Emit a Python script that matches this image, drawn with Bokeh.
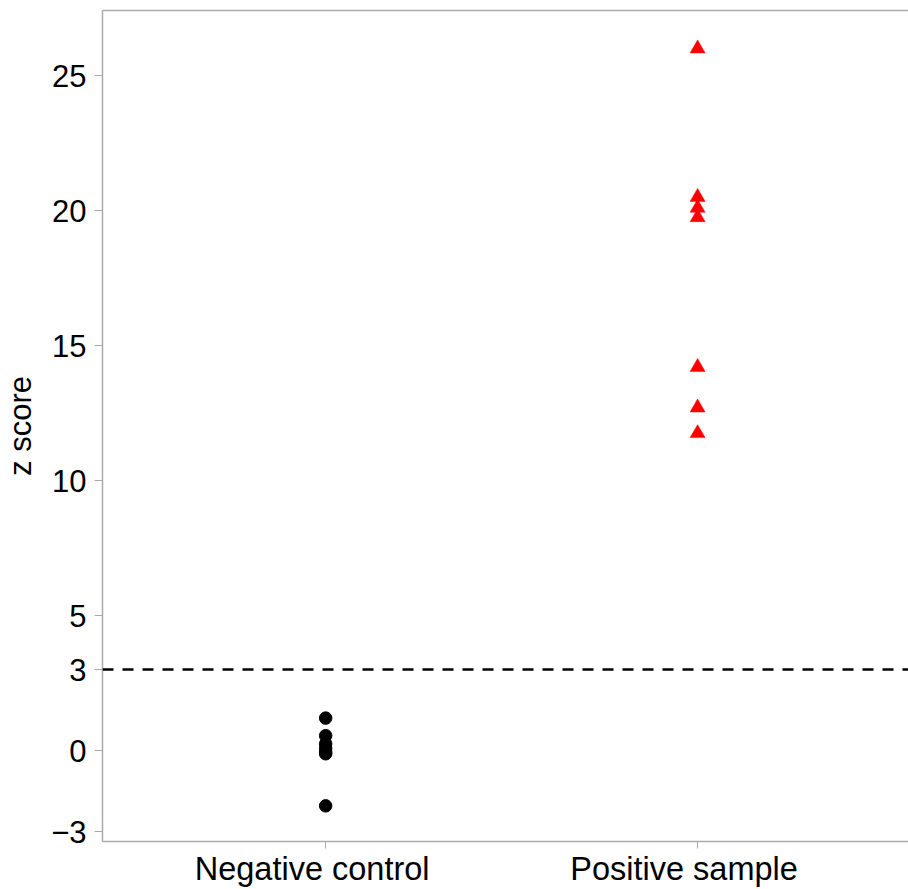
from bokeh.plotting import figure
from bokeh.models import FixedTicker, LinearAxis, Span, Range1d, ColumnDataSource
from bokeh.embed import file_html
from bokeh.resources import INLINE

# ---- data ----
categories = ["Negative control", "Positive sample"]
negative_z = [1.2, 0.55, 0.25, 0.08, -0.05, -0.12, -2.05]
positive_z = [26.0, 20.5, 20.1, 19.75, 14.2, 12.7, 11.75]
y_ticks = [-3, 0, 3, 5, 10, 15, 20, 25]
threshold = 3

FONT = "Liberation Sans"
GREY = "#ababab"
PAD = "\u00a0" * 3  # labels sit slightly left of their ticks in the reference

p = figure(width=908, height=889, output_backend="svg", toolbar_location=None,
           x_range=Range1d(0.4, 2.567), y_range=Range1d(-3.37, 27.41),
           min_border_left=102, min_border_right=0, min_border_top=10,
           min_border_bottom=48)
p.outline_line_color = None
p.xgrid.visible = False
p.ygrid.visible = False
p.background_fill_color = "white"
p.border_fill_color = "white"

neg_src = ColumnDataSource(dict(x=[1] * len(negative_z), y=negative_z))
pos_src = ColumnDataSource(dict(x=[2] * len(positive_z), y=positive_z))

p.add_layout(Span(location=threshold, dimension="width", line_color="black",
                  line_width=2.5, line_dash="11 9"))

p.scatter("x", "y", source=neg_src, marker="circle", size=12.5,
          fill_color="black", line_color="black")
p.scatter("x", "y", source=pos_src, marker="triangle", size=15,
          fill_color="red", line_color="red", line_width=0.5)

# x axis
xa = p.xaxis[0]
xa.ticker = FixedTicker(ticks=[1, 2])
xa.major_label_overrides = {i + 1: c + PAD for i, c in enumerate(categories)}
xa.minor_tick_line_color = None
xa.major_tick_in = 0
xa.major_tick_out = 7
xa.major_tick_line_color = GREY
xa.axis_line_color = GREY
xa.axis_line_width = 1.5
xa.major_label_text_font = FONT
xa.major_label_text_font_size = "32.5px"
xa.major_label_text_color = "black"
xa.major_label_standoff = 2

# y axis
ya = p.yaxis[0]
ya.ticker = FixedTicker(ticks=y_ticks)
ya.major_label_overrides = {t: ("\u2212" + str(-t) if t < 0 else str(t)) for t in y_ticks}
ya.minor_tick_line_color = None
ya.major_tick_in = 0
ya.major_tick_out = 8
ya.major_tick_line_color = GREY
ya.axis_line_color = GREY
ya.axis_line_width = 1.5
ya.major_label_text_font = FONT
ya.major_label_text_font_size = "31px"
ya.major_label_text_color = "black"
ya.major_label_standoff = 8
ya.axis_label = "z score"
ya.axis_label_text_font = FONT
ya.axis_label_text_font_size = "31px"
ya.axis_label_text_font_style = "normal"
ya.axis_label_text_color = "black"
ya.axis_label_standoff = 10

# top border line
top = LinearAxis(ticker=FixedTicker(ticks=[]), axis_line_color=GREY,
                 axis_line_width=1.5, major_tick_out=0, major_tick_in=0,
                 minor_tick_line_color=None, major_label_text_font_size="0px",
                 major_label_standoff=0)
p.add_layout(top, "above")

open("out.html", "w").write(file_html(p, INLINE))
